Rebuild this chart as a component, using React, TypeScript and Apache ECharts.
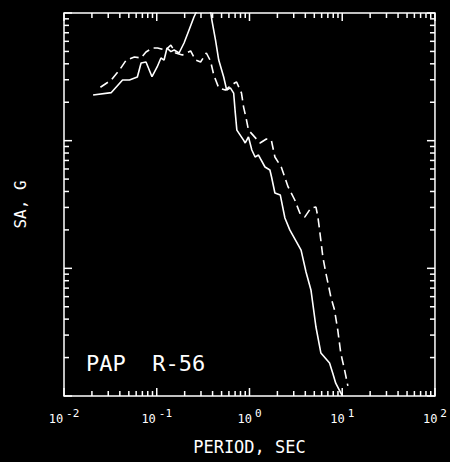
import React, { useEffect, useRef } from 'react';
import * as echarts from 'echarts';

// Period (sec) and spectral acceleration (g)
const periodSolid = [0.0206, 0.0324, 0.0428, 0.0508, 0.0618, 0.0678, 0.0766, 0.0889, 0.101, 0.111, 0.120, 0.129, 0.142, 0.154, 0.174, 0.197, 0.223, 0.252, 0.264, 0.322, 0.383, 0.393, 0.430, 0.466, 0.527, 0.568, 0.622, 0.675, 0.703, 0.731, 0.863, 0.90, 0.975, 1.06, 1.15, 1.25, 1.47, 1.66, 1.73, 1.88, 2.15, 2.41, 2.72, 3.60, 4.07, 4.60, 5.21, 5.89, 7.30, 7.91, 8.51, 9.64, 10.1];
const saSolid = [0.228, 0.238, 0.299, 0.299, 0.315, 0.406, 0.413, 0.317, 0.378, 0.444, 0.428, 0.532, 0.498, 0.513, 0.486, 0.582, 0.736, 0.93, 1.0, 1.3, 1.0, 0.881, 0.615, 0.428, 0.315, 0.249, 0.259, 0.236, 0.165, 0.121, 0.101, 0.0959, 0.107, 0.0845, 0.0745, 0.0772, 0.0622, 0.0589, 0.0519, 0.0389, 0.0375, 0.0248, 0.020, 0.0139, 0.00936, 0.00677, 0.00347, 0.00217, 0.00181, 0.00151, 0.00126, 0.00106, 0.001];

const periodDashed = [0.0247, 0.0324, 0.0397, 0.0469, 0.0574, 0.0678, 0.0766, 0.0902, 0.102, 0.125, 0.142, 0.160, 0.189, 0.232, 0.262, 0.297, 0.343, 0.380, 0.412, 0.466, 0.550, 0.622, 0.692, 0.726, 0.820, 0.863, 0.929, 0.975, 1.30, 1.52, 1.72, 1.88, 2.20, 2.61, 3.08, 3.49, 3.94, 4.60, 5.21, 5.47, 5.70, 6.18, 6.66, 7.54, 8.26, 8.95, 9.64, 10.6, 11.5];
const saDashed = [0.262, 0.299, 0.358, 0.428, 0.452, 0.444, 0.495, 0.532, 0.532, 0.513, 0.561, 0.486, 0.469, 0.504, 0.428, 0.413, 0.486, 0.421, 0.327, 0.259, 0.249, 0.268, 0.283, 0.288, 0.236, 0.184, 0.145, 0.121, 0.0959, 0.103, 0.101, 0.0745, 0.0622, 0.0434, 0.0343, 0.0271, 0.0252, 0.0297, 0.0302, 0.0252, 0.020, 0.0123, 0.00919, 0.00597, 0.00472, 0.00329, 0.00217, 0.0016, 0.0012];

const xDecadeExponents = [-2, -1, 0, 1, 2];
const yDecadeExponents = [-3, -2, -1, 0];
const minorMultipliers = [1, 2, 3, 4, 5, 6, 7, 8, 9];

const xAxisTitle = 'PERIOD, SEC';
const yAxisTitle = 'SA, G';
const panelLabel = 'PAP  R-56';

const FONT = '"DejaVu Sans Mono", monospace';

export default function App() {
  const ref = useRef<HTMLDivElement>(null);

  useEffect(() => {
    document.body.style.margin = '0';
    document.body.style.background = '#000';
    const chart = echarts.init(ref.current!, null, { renderer: 'svg' });

    const xMin = Math.pow(10, xDecadeExponents[0]);
    const xMax = Math.pow(10, xDecadeExponents[xDecadeExponents.length - 1]);
    const yMin = Math.pow(10, yDecadeExponents[0]);
    const yMax = Math.pow(10, yDecadeExponents[yDecadeExponents.length - 1]);

    const tickData: number[][] = [];
    xDecadeExponents.forEach((e) => {
      minorMultipliers.forEach((m) => {
        const v = m * Math.pow(10, e);
        if (v <= xMax * 1.0001) tickData.push([v, yMin, 0, m === 1 ? 1 : 0]);
      });
    });
    yDecadeExponents.forEach((e) => {
      minorMultipliers.forEach((m) => {
        const v = m * Math.pow(10, e);
        if (v <= yMax * 1.0001) tickData.push([xMin, v, 1, m === 1 ? 1 : 0]);
      });
    });

    const tickStyle = { stroke: '#fff', lineWidth: 1.5 };

    chart.setOption({
      animation: false,
      backgroundColor: '#000',
      grid: {
        left: 64,
        top: 13,
        right: 12,
        bottom: 66,
        show: true,
        borderColor: '#fff',
        borderWidth: 1.5,
        backgroundColor: 'transparent',
      },
      xAxis: {
        type: 'log',
        logBase: 10,
        min: xMin,
        max: xMax,
        axisLine: { show: false },
        axisTick: { show: false },
        splitLine: { show: false },
        minorTick: { show: false },
        axisLabel: {
          margin: 12,
          formatter: (v: number) => `{b|10}{e|${Math.round(Math.log10(v))}}`,
          rich: {
            b: { fontFamily: FONT, fontSize: 12, color: '#fff', verticalAlign: 'bottom' },
            e: { fontFamily: FONT, fontSize: 11, color: '#fff', verticalAlign: 'bottom', padding: [0, 0, 6, 3] },
          },
        },
        name: xAxisTitle,
        nameLocation: 'middle',
        nameGap: 42,
        nameTextStyle: { fontFamily: FONT, fontSize: 17, color: '#fff' },
      },
      yAxis: {
        type: 'log',
        logBase: 10,
        min: yMin,
        max: yMax,
        axisLine: { show: false },
        axisTick: { show: false },
        splitLine: { show: false },
        minorTick: { show: false },
        axisLabel: { show: false },
        name: yAxisTitle,
        nameLocation: 'middle',
        nameRotate: 90,
        nameGap: 36,
        nameTextStyle: { fontFamily: FONT, fontSize: 16, color: '#fff' },
      },
      series: [
        {
          type: 'custom',
          data: tickData,
          encode: { x: 0, y: 1 },
          silent: true,
          renderItem: (params: any, api: any) => {
            const x = api.value(0);
            const y = api.value(1);
            const kind = api.value(2);
            const major = api.value(3);
            const len = major ? 8 : 5;
            if (kind === 0) {
              const b = api.coord([x, yMin]);
              const t = api.coord([x, yMax]);
              return {
                type: 'group',
                children: [
                  { type: 'line', shape: { x1: b[0], y1: b[1], x2: b[0], y2: b[1] - len }, style: tickStyle },
                  { type: 'line', shape: { x1: t[0], y1: t[1], x2: t[0], y2: t[1] + len }, style: tickStyle },
                ],
              };
            }
            const l = api.coord([xMin, y]);
            const r = api.coord([xMax, y]);
            return {
              type: 'group',
              children: [
                { type: 'line', shape: { x1: l[0], y1: l[1], x2: l[0] + len, y2: l[1] }, style: tickStyle },
                { type: 'line', shape: { x1: r[0], y1: r[1], x2: r[0] - len, y2: r[1] }, style: tickStyle },
              ],
            };
          },
        },
        {
          type: 'line',
          data: periodSolid.map((p, i) => [p, saSolid[i]]),
          showSymbol: false,
          clip: true,
          lineStyle: { color: '#fff', width: 1.6 },
        },
        {
          type: 'line',
          data: periodDashed.map((p, i) => [p, saDashed[i]]),
          showSymbol: false,
          clip: true,
          lineStyle: { color: '#fff', width: 1.6, type: [9, 5] },
        },
      ],
      graphic: [
        {
          type: 'text',
          left: 86,
          top: 352,
          style: { text: panelLabel, fontFamily: FONT, fontSize: 22, fill: '#fff' },
        },
      ],
    });

    return () => chart.dispose();
  }, []);

  return (
    <div
      ref={ref}
      style={{ position: 'fixed', left: 0, top: 0, width: 450, height: 462, background: '#000' }}
    />
  );
}
